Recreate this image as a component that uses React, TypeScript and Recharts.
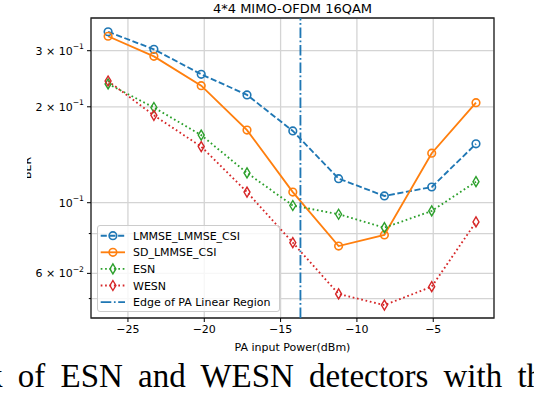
import React from "react";
import {
  LineChart,
  Line,
  XAxis,
  YAxis,
  CartesianGrid,
  ReferenceLine,
  ReferenceArea,
  Legend,
} from "recharts";

// PA input power (dBm) and BER per detector
const power = [-26.3, -23.3, -20.2, -17.2, -14.2, -11.2, -8.2, -5.1, -2.2];
const lmmseLmmseCsi = [0.344, 0.303, 0.253, 0.218, 0.168, 0.119, 0.105, 0.112, 0.153];
const sdLmmseCsi = [0.333, 0.288, 0.233, 0.169, 0.108, 0.0731, 0.0792, 0.143, 0.206];
const esn = [0.236, 0.199, 0.163, 0.124, 0.098, 0.092, 0.0835, 0.0942, 0.1164];
const wesn = [0.241, 0.188, 0.15, 0.108, 0.0749, 0.0517, 0.0477, 0.0545, 0.087];
const paLinearEdge = -13.7;

const xTicks = [-25, -20, -15, -10, -5];
const yTicks = [0.05, 0.06, 0.07, 0.08, 0.09, 0.1, 0.2, 0.3];
const yTickLabels: Record<string, [string, string]> = {
  "0.06": ["6 × 10", "−2"],
  "0.1": ["10", "−1"],
  "0.2": ["2 × 10", "−1"],
  "0.3": ["3 × 10", "−1"],
};

const xDomain: [number, number] = [-27.42, -1.02];
const yDomain: [number, number] = [0.04346, 0.38];

const BLUE = "#1f77b4";
const ORANGE = "#ff7f0e";
const GREEN = "#2ca02c";
const RED = "#d62728";
const DASHED = "6.1 2.6";
const DOTTED = "1.7 2.7";
const DASHDOT = "10.6 2.6 1.7 2.6";
const FONT = "DejaVu Sans";
const LW = 1.85;

const data = power.map((p, i) => ({
  power: p,
  lmmse: lmmseLmmseCsi[i],
  sd: sdLmmseCsi[i],
  esn: esn[i],
  wesn: wesn[i],
}));

const series = [
  { key: "lmmse", name: "LMMSE_LMMSE_CSI", color: BLUE, dash: DASHED, marker: "circle" },
  { key: "sd", name: "SD_LMMSE_CSI", color: ORANGE, dash: undefined, marker: "circle" },
  { key: "esn", name: "ESN", color: GREEN, dash: DOTTED, marker: "diamond" },
  { key: "wesn", name: "WESN", color: RED, dash: DOTTED, marker: "diamond" },
];

const Marker = ({ cx, cy, kind, color }: any) =>
  kind === "circle" ? (
    <circle cx={cx} cy={cy} r={3.8} fill="none" stroke={color} strokeWidth={1.6} />
  ) : (
    <path
      d={`M${cx},${cy - 5}L${cx + 3},${cy}L${cx},${cy + 5}L${cx - 3},${cy}Z`}
      fill="none"
      stroke={color}
      strokeWidth={1.4}
    />
  );

const makeDot = (kind: string, color: string) => (props: any) => (
  <Marker key={`${kind}-${color}-${props.index}`} cx={props.cx} cy={props.cy} kind={kind} color={color} />
);

const YTick = (props: any) => {
  const { x, y, payload } = props;
  const lab = yTickLabels[String(payload.value)];
  const len = lab ? 4 : 2.2;
  return (
    <g>
      <line x1={x + 7 - len} x2={x + 7} y1={y} y2={y} stroke="#000" strokeWidth={1} />
      {lab && (
        <text x={x} y={y} dy={4} textAnchor="end" fontSize={11} fontFamily={FONT} fill="#000">
          {lab[0]}
          <tspan dy={-5.5} fontSize={7.7}>
            {lab[1]}
          </tspan>
        </text>
      )}
    </g>
  );
};

const LegendBox = () => {
  const rows = [...series, { key: "edge", name: "Edge of PA Linear Region", color: BLUE, dash: DASHDOT, marker: "" }];
  return (
    <div
      style={{
        width: 183,
        height: 87,
        boxSizing: "border-box",
        border: "1px solid #cccccc",
        borderRadius: 3,
        background: "rgba(255,255,255,0.8)",
      }}
    >
      <svg width={183} height={87} style={{ position: "absolute", left: 0, top: 0 }}>
        {rows.map((r, i) => {
          const cy = 10.7 + i * 16.6;
          return (
            <g key={r.key}>
              <line x1={3.7} x2={28} y1={cy} y2={cy} stroke={r.color} strokeWidth={LW} strokeDasharray={r.dash} />
              {r.marker && <Marker cx={15.9} cy={cy} kind={r.marker} color={r.color} />}
              <text x={36} y={cy + 4} fontSize={11} fontFamily={FONT} fill="#000">
                {r.name}
              </text>
            </g>
          );
        })}
      </svg>
    </div>
  );
};

export default function App() {
  return (
    <div style={{ position: "absolute", left: 0, top: 0, width: 534, height: 394, overflow: "hidden", background: "#fff" }}>
      <div
        style={{
          position: "absolute",
          left: 91,
          width: 403,
          top: 2,
          textAlign: "center",
          fontFamily: FONT,
          fontSize: 13,
          lineHeight: "13px",
          color: "#000",
        }}
      >
        4*4 MIMO-OFDM 16QAM
      </div>
      <LineChart
        width={534}
        height={394}
        data={data}
        margin={{ top: 18, right: 40, bottom: 36, left: 0 }}
        style={{ fontFamily: FONT }}
      >
        <CartesianGrid stroke="#d4d4d4" strokeWidth={1.3} />
        <XAxis
          dataKey="power"
          type="number"
          domain={xDomain}
          ticks={xTicks}
          allowDataOverflow
          height={40}
          tickSize={4}
          tickMargin={3}
          tickLine={{ stroke: "#000" }}
          axisLine={false}
          tick={{ fontSize: 11, fill: "#000", fontFamily: FONT }}
          tickFormatter={(v: number) => (v < 0 ? `−${Math.abs(v)}` : `${v}`)}
          label={{ value: "PA input Power(dBm)", position: "insideBottom", offset: 7, fontSize: 11, fill: "#000", fontFamily: FONT }}
        />
        <YAxis
          type="number"
          scale="log"
          domain={yDomain}
          ticks={yTicks}
          allowDataOverflow
          width={91}
          tickSize={4}
          tickMargin={3}
          tickLine={false}
          axisLine={false}
          tick={<YTick />}
        />
        {series.map((s) => (
          <Line
            key={s.key}
            type="linear"
            dataKey={s.key}
            name={s.name}
            stroke={s.color}
            strokeWidth={LW}
            strokeDasharray={s.dash}
            dot={makeDot(s.marker, s.color)}
            activeDot={false}
            isAnimationActive={false}
          />
        ))}
        <ReferenceLine x={paLinearEdge} stroke={BLUE} strokeWidth={LW} strokeDasharray={DASHDOT} />
        <ReferenceArea
          x1={xDomain[0]}
          x2={xDomain[1]}
          y1={yDomain[0]}
          y2={yDomain[1]}
          fill="none"
          stroke="#222"
          strokeWidth={1.3}
          ifOverflow="visible"
        />
        <Legend
          layout="vertical"
          align="center"
          verticalAlign="middle"
          content={<LegendBox />}
          wrapperStyle={{ left: 97, top: 225, width: 183, height: 87 }}
        />
      </LineChart>
      <div style={{ position: "absolute", left: 27, top: 140, width: 20, height: 60, overflow: "hidden" }}>
        <svg width={20} height={60}>
          <text transform="translate(4,28) rotate(-90)" textAnchor="middle" fontSize={11} fontFamily={FONT} fill="#000">
            BER
          </text>
        </svg>
      </div>
      <div
        style={{
          position: "absolute",
          left: -14,
          top: 360,
          fontFamily: "Liberation Serif",
          fontSize: 33,
          lineHeight: "33px",
          wordSpacing: 7,
          whiteSpace: "nowrap",
          color: "#000",
        }}
      >
        k of ESN and WESN detectors with th
      </div>
    </div>
  );
}
